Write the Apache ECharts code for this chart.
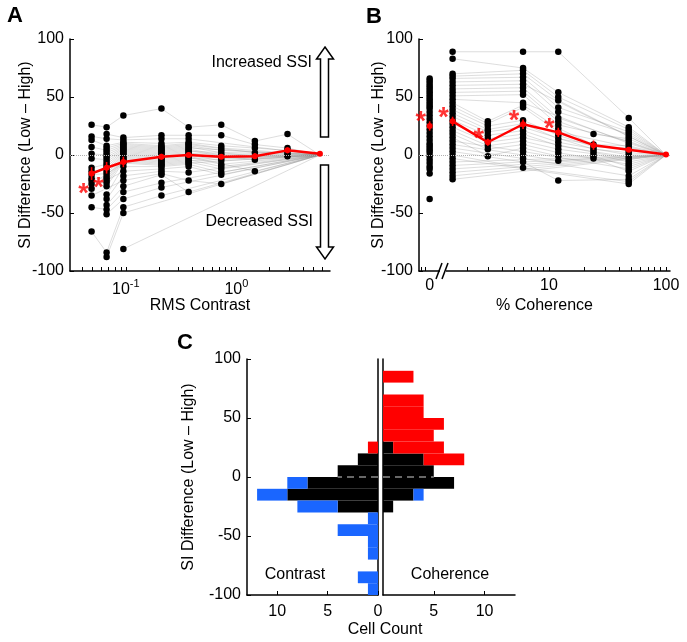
<!DOCTYPE html>
<html><head><meta charset="utf-8">
<script src="https://cdn.jsdelivr.net/npm/echarts@6/dist/echarts.min.js"></script>
<style>html,body{margin:0;padding:0;background:#fff}#c{width:687px;height:642px}</style>
</head><body><div id="c"></div>
<script>
// ---------------- DATA ----------------
// Panel A: RMS contrast levels (x) and per-cell SI difference (Low - High), null = not tested
const contrastLevels = [0.049, 0.067, 0.095, 0.21, 0.37, 0.73, 1.47, 2.9, 5.7];
const cellsA = [
  [26, 24, 34, 40, 24, 26, 12, 18, 0],
  [null, 18, 15, 17, 17, 17, 9, 6, 0],
  [16, 14, 13, 14, 14, null, null, null, 0],
  [13, 8, 11, 10, 11, 8, 6, 4, 0],
  [null, 6, 10, 8, 10, 6, null, null, 0],
  [7, 4, 9, 7, 9, null, 2, 2, 0],
  [null, 2, 8, 6, 8, 4, null, null, 0],
  [1, 0, 7, 5, 7, 2, -1, 0, 0],
  [null, -2, 6, 4, 6, null, null, null, 0],
  [-3, -4, 5, 3, 5, 0, null, -1, 0],
  [null, -6, 4, 2, 4, -1, -4, null, 0],
  [-11, -8, 3, 1, 3, null, null, null, 0],
  [null, -10, 2, 0, 2, -3, null, null, 0],
  [-14, -12, 1, -1, 1, null, null, null, 0],
  [null, -14, 0, -2, 0, -5, null, null, 0],
  [-17, -16, -1, -3, -1, null, -14, null, 0],
  [null, -18, -2, -4, -2, -8, null, null, 0],
  [-20, -20, -3, -5, -3, null, null, null, 0],
  [null, -22, -4, -6, -4, -10, null, null, 0],
  [-22, -24, -5, -7, -5, null, null, null, 0],
  [null, -27, -6, -8, -6, -12, null, null, 0],
  [-25, null, -7, -9, -7, null, null, null, 0],
  [null, -34, -10, -10, -8, -15, null, null, 0],
  [-29, null, -14, -12, -10, -17, null, null, 0],
  [null, -38, -18, -14, -15, null, null, null, 0],
  [-35, null, -22, -16, -22, -25, null, null, 0],
  [null, -43, -27, -17, -32, null, null, null, 0],
  [-45, -47, -32, -24, null, null, null, null, 0],
  [null, -51, -38, -28, null, null, null, null, 0],
  [-66, -84, -45, -35, null, null, null, null, 0],
  [null, -88, -50, null, null, null, null, null, 0],
  [null, null, -81, null, null, null, null, null, 0]
];
const meanA = [-16, -11, -6, -1.5, 0, -1.5, -1, 4, 1];
const semA  = [5.5, 5, 4.5, 2.5, 2, 2, 2.5, 2.5, 0];
const sigA  = [1, 1, 0, 0, 0, 0, 0, 0, 0];

// Panel B: % coherence levels; 0% column is unconnected
const coherenceLevels = [0, 1.5, 3, 6, 12, 24, 48, 100];
const cohZeroDots = [66, 64, 62, 60, 58, 56, 54, 52, 50, 48, 46, 44, 42, 40, 37, 34, 31, 28, 25, 22, 19, 16, 13, 10, 8, 6, 4, 2, -1, -4, -7, -10, -12, -16, -38];
const cellsB = [
  [89, null, 89, 89, null, 32, 0],
  [83, null, 75, 54, null, 24, 0],
  [70, null, 73, 50, null, 22, 0],
  [68, null, 70, 47, null, null, 0],
  [66, null, 67, 41, null, 20, 0],
  [63, null, 64, 37, null, 18, 0],
  [60, null, 61, null, null, 16, 0],
  [57, null, 58, 32, null, null, 0],
  [54, null, 55, 29, 18, 14, 0],
  [51, null, 52, 26, null, 12, 0],
  [48, null, 45, null, null, 10, 0],
  [45, 29, 43, 23, 9, 8, 0],
  [42, 27, 41, 20, null, null, 0],
  [39, 25, 30, 17, 7, 6, 0],
  [36, 22, 27, 14, null, 4, 0],
  [33, 20, 24, null, 5, 2, 0],
  [30, 17, 21, 11, null, 0, 0],
  [27, 14, 18, 8, 3, -2, 0],
  [24, 11, 15, null, null, -4, 0],
  [21, 8, 12, 5, 1, -6, 0],
  [18, 5, 9, 2, null, -8, 0],
  [15, -1, 6, -1, -1, -10, 0],
  [12, null, 3, null, null, -12, 0],
  [9, null, 0, -5, -3, -14, 0],
  [6, null, -3, null, null, -18, 0],
  [3, null, -6, -22, null, -21, 0],
  [0, null, -11, null, null, -23, 0],
  [-3, null, null, null, null, -25, 0],
  [-6, null, null, null, null, null, 0],
  [-9, null, null, null, null, null, 0],
  [-12, null, null, null, null, null, 0],
  [-15, null, null, null, null, null, 0],
  [-18, null, null, null, null, null, 0],
  [-21, null, null, null, null, null, 0]
];
const meanB = [25, 29, 11, 26.5, 19.5, 8.5, 4.5, 0.5];
const semB  = [4, 4, 3, 4, 4, 4, 2, 0];
const sigB  = [1, 1, 1, 1, 1, 0, 0, 0];

// Panel C: histogram, bins of 10 starting at binLower
const binLower        = [-100, -90, -80, -70, -60, -50, -40, -30, -20, -10, 0, 10, 20, 30, 40, 50, 60, 70, 80, 90];
const contrastBlack   = [0, 0, 0, 0, 0, 0, 0, 4, 9, 7, 4, 2, 0, 0, 0, 0, 0, 0, 0, 0];
const contrastRed     = [0, 0, 0, 0, 0, 0, 0, 0, 0, 0, 0, 0, 1, 0, 0, 0, 0, 0, 0, 0];
const contrastBlue    = [1, 2, 0, 1, 1, 4, 1, 4, 3, 2, 0, 0, 0, 0, 0, 0, 0, 0, 0, 0];
const coherenceBlack  = [0, 0, 0, 0, 0, 0, 0, 1, 3, 7, 5, 4, 1, 0, 0, 0, 0, 0, 0, 0];
const coherenceRed    = [0, 0, 0, 0, 0, 0, 0, 0, 0, 0, 0, 4, 5, 5, 6, 4, 4, 0, 3, 0];
const coherenceBlue   = [0, 0, 0, 0, 0, 0, 0, 0, 1, 0, 0, 0, 0, 0, 0, 0, 0, 0, 0, 0];

const yTickStep = 50;
const contrastMinorTicks = [0.04,0.05,0.06,0.07,0.08,0.09,0.1,0.2,0.3,0.4,0.5,0.6,0.7,0.8,0.9,1,2,3,4,5,6];
const contrastLabelExps = [-1, 0];
const coherenceTicks = [2,3,4,5,6,7,8,9,10,20,30,40,50,60,70,80,90,100];
const coherenceLabels = [0, 10, 100];
const countLabels = [0, 5, 10];

// ---------------- LAYOUT / STYLE ----------------
const FONT = '"Liberation Sans", Arial, Helvetica, sans-serif';
const FS = 16;
const ZERO_POS = -0.02;          // axis position used for the 0% coherence column (broken axis)
const BREAK_TICKS = [-0.09, -0.055];
function cohX(c) { return c === 0 ? ZERO_POS : Math.log10(c); }
const xA = contrastLevels.map(c => Math.log10(c));
const xB = coherenceLevels.map(cohX);

function axisBase() {
  return {
    axisLine: { show: true, onZero: false, lineStyle: { color: '#000', width: 1.5 } },
    axisTick: { show: true, inside: true, length: 4, lineStyle: { color: '#000', width: 1 } },
    axisLabel: { color: '#000', fontSize: FS, fontFamily: FONT },
    splitLine: { show: false },
    nameMoveOverlap: false,
    nameTextStyle: { color: '#000', fontSize: FS, fontFamily: FONT }
  };
}
function yAxisSI(gridIndex, nameGap) {
  return Object.assign(axisBase(), {
    type: 'value', gridIndex, min: -100, max: 100, interval: yTickStep,
    name: 'SI Difference (Low \u2013 High)', nameLocation: 'middle', nameGap, nameRotate: 90,
    axisLabel: { color: '#000', fontSize: FS, fontFamily: FONT, margin: 6 }
  });
}

const series = [];
const grayLine = { color: '#8c8c8c', width: 0.6, opacity: 0.5 };
const zeroMark = { silent: true, symbol: 'none', label: { show: false },
  lineStyle: { type: 'dotted', color: '#b0b0b0', width: 1 }, data: [{ yAxis: 0 }], animation: false };
const blackDot = { color: '#000', opacity: 1 };
const redDot = { color: '#ff0000', opacity: 1 };
const DOT = 6.5;

function errRender(params, api) {
  const x = api.value(0), m = api.value(1), e = api.value(2);
  const p1 = api.coord([x, m - e]), p2 = api.coord([x, m + e]);
  return { type: 'line', shape: { x1: p1[0], y1: p1[1], x2: p2[0], y2: p2[1] },
    style: { stroke: '#ff0000', lineWidth: 1.6 } };
}
function starSeries(xi, yi, data, offset) {
  return { type: 'scatter', xAxisIndex: xi, yAxisIndex: yi, data, symbol: 'circle', symbolSize: 0.01,
    itemStyle: { color: 'rgba(0,0,0,0)' }, z: 7, silent: true, animation: false,
    label: { show: true, formatter: '*', position: 'inside', offset, color: '#ff0000', fontSize: 27,
      fontWeight: 'bold', fontFamily: FONT, textBorderWidth: 0 } };
}

// ---- Panel A ----
cellsA.forEach(cell => {
  const pts = [];
  cell.forEach((v, j) => { if (v !== null) pts.push([xA[j], v]); });
  series.push({ type: 'line', xAxisIndex: 0, yAxisIndex: 0, data: pts, symbol: 'none',
    lineStyle: grayLine, silent: true, z: 1, animation: false });
});
const dotsA = [];
cellsA.forEach(cell => cell.forEach((v, j) => { if (v !== null && j < contrastLevels.length - 1) dotsA.push([xA[j], v]); }));
series.push({ type: 'scatter', xAxisIndex: 0, yAxisIndex: 0, data: dotsA, symbolSize: DOT,
  itemStyle: blackDot, z: 2, silent: true, animation: false, markLine: zeroMark });
series.push({ type: 'line', xAxisIndex: 0, yAxisIndex: 0, data: xA.map((x, i) => [x, meanA[i]]),
  symbol: 'circle', symbolSize: 6, itemStyle: redDot, lineStyle: { color: '#ff0000', width: 2.5 }, z: 5, animation: false });
series.push({ type: 'custom', xAxisIndex: 0, yAxisIndex: 0, data: xA.map((x, i) => [x, meanA[i], semA[i]]),
  renderItem: errRender, encode: { x: 0, y: 1 }, z: 6, silent: true, animation: false });
series.push(starSeries(0, 0, xA.map((x, i) => [x, meanA[i]]).filter((d, i) => sigA[i]), [-8, 21]));

// ---- Panel B ----
cellsB.forEach(cell => {
  const pts = [];
  cell.forEach((v, j) => { if (v !== null) pts.push([xB[j + 1], v]); });
  series.push({ type: 'line', xAxisIndex: 1, yAxisIndex: 1, data: pts, symbol: 'none',
    lineStyle: grayLine, silent: true, z: 1, animation: false });
});
const dotsB = cohZeroDots.map(v => [xB[0], v]);
cellsB.forEach(cell => cell.forEach((v, j) => { if (v !== null && j < cell.length - 1) dotsB.push([xB[j + 1], v]); }));
series.push({ type: 'scatter', xAxisIndex: 1, yAxisIndex: 1, data: dotsB, symbolSize: DOT,
  itemStyle: blackDot, z: 2, silent: true, animation: false, markLine: zeroMark });
series.push({ type: 'scatter', xAxisIndex: 1, yAxisIndex: 1, data: [[xB[0], meanB[0]]],
  symbolSize: 6, itemStyle: redDot, z: 5, animation: false });
series.push({ type: 'line', xAxisIndex: 1, yAxisIndex: 1, data: xB.slice(1).map((x, i) => [x, meanB[i + 1]]),
  symbol: 'circle', symbolSize: 6, itemStyle: redDot, lineStyle: { color: '#ff0000', width: 2.5 }, z: 5, animation: false });
series.push({ type: 'custom', xAxisIndex: 1, yAxisIndex: 1, data: xB.map((x, i) => [x, meanB[i], semB[i]]),
  renderItem: errRender, encode: { x: 0, y: 1 }, z: 6, silent: true, animation: false });
series.push(starSeries(1, 1, xB.map((x, i) => [x, meanB[i]]).filter((d, i) => sigB[i]), [-9, -3]));

// ---- Panel C ----
function rectRender(color) {
  return function (params, api) {
    const a = api.coord([api.value(2), api.value(1)]);
    const b = api.coord([api.value(3), api.value(0)]);
    return { type: 'rect', shape: { x: Math.min(a[0], b[0]), y: Math.min(a[1], b[1]),
      width: Math.abs(b[0] - a[0]), height: Math.abs(b[1] - a[1]) }, style: { fill: color } };
  };
}
function stackItems(base, add, useBase) {
  const out = [];
  binLower.forEach((lo, i) => {
    const s = useBase ? base[i] : 0;
    const e = useBase ? base[i] + add[i] : base[i];
    if (e > s) out.push([lo, lo + 10, s, e]);
  });
  return out;
}
function histSeries(xi, yi, black, red, blue) {
  [[stackItems(black, null, false), '#000000'],
   [stackItems(black, red, true), '#ff0000'],
   [stackItems(black, blue, true), '#1a66ff']].forEach(([data, color]) => {
    series.push({ type: 'custom', xAxisIndex: xi, yAxisIndex: yi, data, renderItem: rectRender(color),
      encode: { x: [2, 3], y: [0, 1] }, z: 2, silent: true, animation: false });
  });
  const zi = binLower.indexOf(0);
  series.push({ type: 'line', xAxisIndex: xi, yAxisIndex: yi, data: [[0, 0], [black[zi], 0]], symbol: 'none',
    lineStyle: { color: '#8a8a8a', width: 1.3, type: [7, 5] }, z: 3, silent: true, animation: false });
}
histSeries(2, 2, contrastBlack, contrastRed, contrastBlue);
histSeries(3, 4, coherenceBlack, coherenceRed, coherenceBlue);

// ---------------- OPTION ----------------
const option = {
  backgroundColor: '#fff',
  animation: false,
  textStyle: { fontFamily: FONT },
  grid: [
    { left: 70, top: 39, width: 260, height: 232, outerBoundsMode: 'none' },
    { left: 419, top: 39, width: 251, height: 232, outerBoundsMode: 'none' },
    { left: 247, top: 359, width: 131, height: 236, outerBoundsMode: 'none' },
    { left: 383, top: 359, width: 132, height: 236, outerBoundsMode: 'none' }
  ],
  xAxis: [
    Object.assign(axisBase(), {
      type: 'value', gridIndex: 0, min: -1.505, max: 0.847,
      name: 'RMS Contrast', nameLocation: 'middle', nameGap: 27,
      axisTick: { show: true, inside: true, length: 4, lineStyle: { color: '#000', width: 1 },
        customValues: contrastMinorTicks.map(v => Math.log10(v)) },
      axisLabel: { customValues: contrastLabelExps, margin: 7,
        formatter: v => '{b|10}{s|' + Math.round(v) + '}',
        rich: { b: { fontSize: FS, fontFamily: FONT, color: '#000', lineHeight: 20, verticalAlign: 'bottom' },
                s: { fontSize: 11, fontFamily: FONT, color: '#000', lineHeight: 20, verticalAlign: 'top' } } }
    }),
    Object.assign(axisBase(), {
      type: 'value', gridIndex: 1, min: -0.111, max: 2.034,
      name: '% Coherence', nameLocation: 'middle', nameGap: 27,
      axisTick: { show: true, inside: true, length: 4, lineStyle: { color: '#000', width: 1 },
        customValues: BREAK_TICKS.concat(coherenceTicks.map(v => Math.log10(v))) },
      axisLabel: { customValues: coherenceLabels.map(cohX), margin: 7, color: '#000', fontSize: FS, fontFamily: FONT,
        formatter: v => (Math.abs(v - ZERO_POS) < 1e-6 ? '0' : String(Math.round(Math.pow(10, v)))) }
    }),
    Object.assign(axisBase(), {
      type: 'value', gridIndex: 2, min: 0, max: 13, inverse: true,
      axisTick: { show: true, inside: true, length: 4, lineStyle: { color: '#000', width: 1 }, customValues: countLabels },
      axisLabel: { customValues: countLabels, color: '#000', fontSize: FS, fontFamily: FONT, margin: 9 }
    }),
    Object.assign(axisBase(), {
      type: 'value', gridIndex: 3, min: 0, max: 13,
      axisTick: { show: true, inside: true, length: 4, lineStyle: { color: '#000', width: 1 }, customValues: countLabels.slice(1) },
      axisLabel: { customValues: countLabels.slice(1), color: '#000', fontSize: FS, fontFamily: FONT, margin: 9 }
    })
  ],
  yAxis: [
    yAxisSI(0, 36),
    yAxisSI(1, 32),
    yAxisSI(2, 50),
    Object.assign(axisBase(), { type: 'value', gridIndex: 2, position: 'right', min: -100, max: 100,
      axisTick: { show: false }, axisLabel: { show: false } }),
    Object.assign(axisBase(), { type: 'value', gridIndex: 3, position: 'left', min: -100, max: 100,
      axisTick: { show: false }, axisLabel: { show: false } })
  ],
  graphic: [
    { type: 'text', x: 15, y: 16, style: { text: 'A', fontSize: 22, fontWeight: 'bold', fontFamily: FONT, fill: '#000', align: 'center', verticalAlign: 'middle' } },
    { type: 'text', x: 374, y: 17, style: { text: 'B', fontSize: 22, fontWeight: 'bold', fontFamily: FONT, fill: '#000', align: 'center', verticalAlign: 'middle' } },
    { type: 'text', x: 185, y: 343, style: { text: 'C', fontSize: 22, fontWeight: 'bold', fontFamily: FONT, fill: '#000', align: 'center', verticalAlign: 'middle' } },
    { type: 'text', x: 312, y: 63, style: { text: 'Increased SSI', fontSize: FS, fontFamily: FONT, fill: '#000', align: 'right', verticalAlign: 'middle' } },
    { type: 'text', x: 313, y: 222, style: { text: 'Decreased SSI', fontSize: FS, fontFamily: FONT, fill: '#000', align: 'right', verticalAlign: 'middle' } },
    { type: 'polygon', shape: { points: [[325, 47], [333.5, 59], [328.5, 59], [328.5, 137], [320.5, 137], [320.5, 59], [316.5, 59]] },
      style: { fill: '#fff', stroke: '#000', lineWidth: 1.5 } },
    { type: 'polygon', shape: { points: [[320.5, 165], [328.5, 165], [328.5, 247], [333.5, 247], [325, 259], [316.5, 247], [320.5, 247]] },
      style: { fill: '#fff', stroke: '#000', lineWidth: 1.5 } },
    { type: 'rect', shape: { x: 440, y: 268, width: 6, height: 6 }, style: { fill: '#fff' }, z: 100 },
    { type: 'line', shape: { x1: 436, y1: 279, x2: 442, y2: 263 }, style: { stroke: '#000', lineWidth: 1.5 }, z: 101 },
    { type: 'line', shape: { x1: 442, y1: 279, x2: 448, y2: 263 }, style: { stroke: '#000', lineWidth: 1.5 }, z: 101 },
    { type: 'text', x: 295, y: 575, style: { text: 'Contrast', fontSize: FS, fontFamily: FONT, fill: '#000', align: 'center', verticalAlign: 'middle' } },
    { type: 'text', x: 450, y: 575, style: { text: 'Coherence', fontSize: FS, fontFamily: FONT, fill: '#000', align: 'center', verticalAlign: 'middle' } },
    { type: 'text', x: 385, y: 630, style: { text: 'Cell Count', fontSize: FS, fontFamily: FONT, fill: '#000', align: 'center', verticalAlign: 'middle' } }
  ],
  series
};
const chart = echarts.init(document.getElementById('c'), null, { renderer: 'canvas' });
chart.setOption(option);
</script></body></html>
